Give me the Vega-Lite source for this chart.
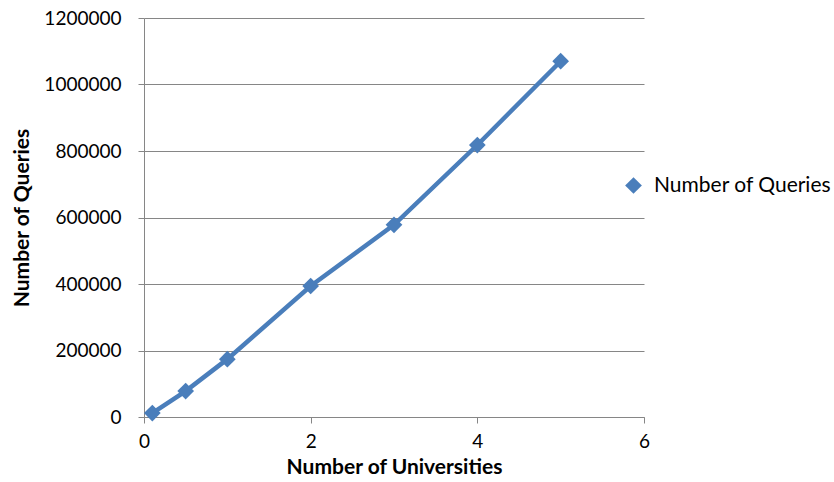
{
  "$schema": "https://vega.github.io/schema/vega-lite/v6.json",
  "width": 500,
  "height": 399,
  "autosize": {"type": "none"},
  "padding": {"left": 144, "top": 18, "right": 190, "bottom": 65},
  "background": "white",
  "config": {
    "view": {"stroke": null},
    "font": "Lato",
    "axis": {
      "labelFont": "Lato",
      "titleFont": "Lato",
      "labelFontSize": 19,
      "titleFontSize": 21,
      "labelColor": "#000000",
      "titleColor": "#000000",
      "domainColor": "#868686",
      "tickColor": "#868686",
      "gridColor": "#868686",
      "gridOpacity": 1,
      "tickSize": 6,
      "labelFlush": false
    }
  },
  "data": {
    "values": [
      {"universities": 0.1, "queries": 12000, "series": "Number of Queries"},
      {"universities": 0.5, "queries": 78000, "series": "Number of Queries"},
      {"universities": 1, "queries": 174000, "series": "Number of Queries"},
      {"universities": 2, "queries": 394000, "series": "Number of Queries"},
      {"universities": 3, "queries": 578000, "series": "Number of Queries"},
      {"universities": 4, "queries": 818000, "series": "Number of Queries"},
      {"universities": 5, "queries": 1070000, "series": "Number of Queries"}
    ]
  },
  "encoding": {
    "x": {
      "field": "universities",
      "type": "quantitative",
      "scale": {"domain": [0, 6], "nice": false, "zero": false},
      "axis": {
        "title": "Number of Universities",
        "titleFontWeight": "bold",
        "values": [0, 2, 4, 6],
        "grid": false,
        "labelFlush": false,
        "labelPadding": 9,
        "titlePadding": 5,
        "format": "d"
      }
    },
    "y": {
      "field": "queries",
      "type": "quantitative",
      "scale": {"domain": [0, 1200000], "nice": false},
      "axis": {
        "title": "Number of Queries",
        "titleFontWeight": "bold",
        "values": [0, 200000, 400000, 600000, 800000, 1000000, 1200000],
        "format": "d",
        "grid": true,
        "labelFlush": false,
        "labelPadding": 17,
        "titlePadding": 11
      }
    }
  },
  "layer": [
    {
      "mark": {"type": "line", "stroke": "#4A7EBB", "strokeWidth": 4.5}
    },
    {
      "mark": {"type": "point", "filled": true, "opacity": 1, "size": 280},
      "encoding": {
        "color": {
          "field": "series",
          "type": "nominal",
          "scale": {"range": ["#4A7EBB"]},
          "legend": {
            "title": null,
            "orient": "none",
            "legendX": 479,
            "legendY": 157,
            "labelFont": "Lato",
            "labelFontSize": 21,
            "labelLimit": 400,
            "labelColor": "#000000",
            "symbolSize": 280,
            "symbolOpacity": 1,
            "labelOffset": 10
          }
        },
        "shape": {
          "field": "series",
          "type": "nominal",
          "scale": {"range": ["diamond"]},
          "legend": null
        }
      }
    }
  ]
}
